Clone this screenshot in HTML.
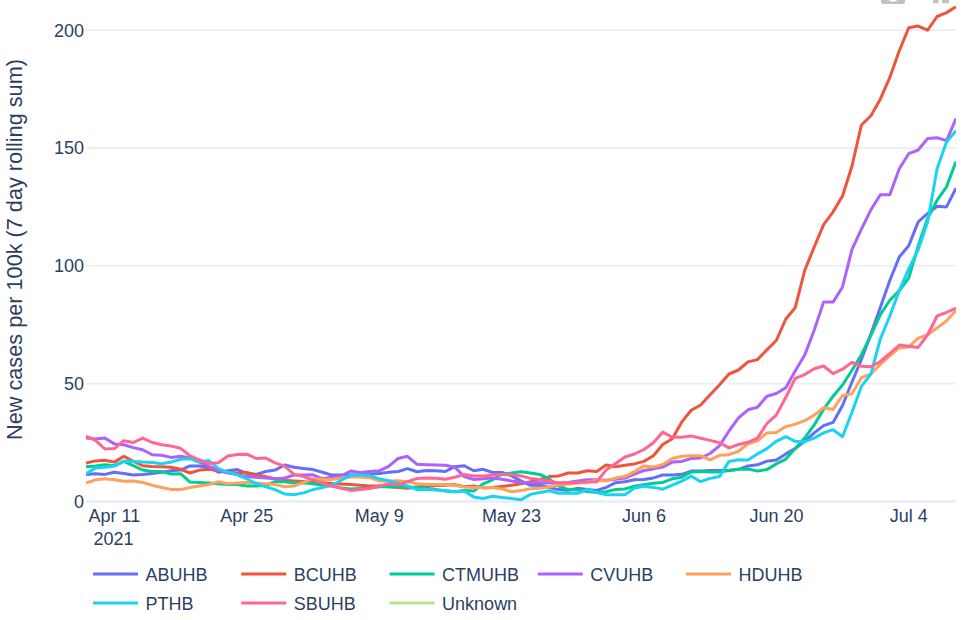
<!DOCTYPE html>
<html><head><meta charset="utf-8"><style>
html,body{margin:0;padding:0;background:#fff;width:967px;height:620px;overflow:hidden}
svg{display:block;font-family:"Liberation Sans",sans-serif}
</style></head><body>
<svg width="967" height="620" viewBox="0 0 967 620">
<g stroke="#EBF0F8" stroke-width="2">
<line x1="86" x2="956" y1="30.0" y2="30.0"/>
<line x1="86" x2="956" y1="147.9" y2="147.9"/>
<line x1="86" x2="956" y1="265.8" y2="265.8"/>
<line x1="86" x2="956" y1="383.6" y2="383.6"/>
</g>
<line x1="86" x2="956" y1="501.5" y2="501.5" stroke="#EBF0F8" stroke-width="3"/>
<g fill="#c2c2c2">
<rect x="881" y="-6" width="24" height="10" rx="2.5"/>
<rect x="933" y="-6" width="5.5" height="9.2"/>
<rect x="942" y="-6" width="7" height="9.2"/>
</g>
<ellipse cx="893" cy="-2" rx="5" ry="3.8" fill="#fff"/>
<g fill="#2a3f5f" font-size="18">
<text x="84" y="36.5" text-anchor="end">200</text>
<text x="84" y="154.4" text-anchor="end">150</text>
<text x="84" y="272.3" text-anchor="end">100</text>
<text x="84" y="390.1" text-anchor="end">50</text>
<text x="84" y="508.0" text-anchor="end">0</text>
<text x="114.4" y="522" text-anchor="middle">Apr 11</text>
<text x="246.8" y="522" text-anchor="middle">Apr 25</text>
<text x="379.2" y="522" text-anchor="middle">May 9</text>
<text x="511.6" y="522" text-anchor="middle">May 23</text>
<text x="644.0" y="522" text-anchor="middle">Jun 6</text>
<text x="776.4" y="522" text-anchor="middle">Jun 20</text>
<text x="908.8" y="522" text-anchor="middle">Jul 4</text>
<text x="113.5" y="544.5" text-anchor="middle">2021</text>
</g>
<text transform="translate(22.2,249.5) rotate(-90)" text-anchor="middle" font-size="21.7" fill="#2a3f5f">New cases per 100k (7 day rolling sum)</text>
<svg x="86" y="0" width="870" height="620" viewBox="86 0 870 620" overflow="hidden">
<g fill="none" stroke-width="3" stroke-linejoin="round" stroke-linecap="butt">
<polyline points="86.0,474.4 95.5,473.7 104.9,474.4 114.4,472.2 123.8,473.4 133.3,475.1 142.7,474.4 152.2,473.4 161.7,472.2 171.1,470.8 180.6,470.1 190.0,465.9 199.5,465.9 208.9,467.2 218.4,472.2 227.8,470.8 237.3,469.6 246.8,473.4 256.2,474.4 265.7,471.5 275.1,470.1 284.6,465.0 294.0,467.2 303.5,468.6 313.0,469.6 322.4,472.2 331.9,475.1 341.3,475.1 350.8,475.1 360.2,474.4 369.7,474.0 379.2,473.4 388.6,472.2 398.1,471.5 407.5,468.6 417.0,471.7 426.4,470.5 435.9,470.8 445.3,471.5 454.8,466.7 464.3,465.7 473.7,470.8 483.2,469.3 492.6,472.5 502.1,472.5 511.5,475.9 521.0,480.9 530.5,485.3 539.9,485.3 549.4,487.5 558.8,489.6 568.3,490.4 577.7,488.2 587.2,489.4 596.7,490.4 606.1,487.5 615.6,482.7 625.0,481.7 634.5,479.7 643.9,479.5 653.4,477.9 662.8,475.0 672.3,475.0 681.8,474.3 691.2,471.1 700.7,471.1 710.1,470.5 719.6,470.5 729.0,470.5 738.5,469.3 748.0,466.0 757.4,464.8 766.9,461.2 776.3,460.1 785.8,453.9 795.2,448.6 804.7,441.3 814.2,432.9 823.6,425.6 833.1,422.4 842.5,405.5 852.0,382.0 861.4,359.5 870.9,334.1 880.3,307.5 889.8,280.5 899.3,257.0 908.7,245.7 918.2,221.9 927.6,213.5 937.1,206.2 946.5,206.9 956.0,188.1" stroke="#636efa"/>
<polyline points="86.0,463.1 95.5,460.9 104.9,460.2 114.4,462.1 123.8,456.3 133.3,461.4 142.7,465.7 152.2,466.4 161.7,466.7 171.1,467.2 180.6,469.3 190.0,473.0 199.5,470.1 208.9,469.3 218.4,470.8 227.8,472.5 237.3,473.0 246.8,472.5 256.2,475.1 265.7,476.6 275.1,478.8 284.6,480.2 294.0,480.9 303.5,481.4 313.0,482.1 322.4,482.7 331.9,483.6 341.3,484.1 350.8,484.6 360.2,485.3 369.7,486.0 379.2,486.0 388.6,486.7 398.1,487.5 407.5,488.2 417.0,487.0 426.4,486.0 435.9,485.6 445.3,485.3 454.8,484.6 464.3,486.7 473.7,486.0 483.2,487.9 492.6,487.5 502.1,486.5 511.5,485.3 521.0,483.7 530.5,481.7 539.9,479.5 549.4,476.6 558.8,475.9 568.3,473.0 577.7,473.0 587.2,470.8 596.7,471.5 606.1,465.0 615.6,466.7 625.0,465.3 634.5,463.9 643.9,461.4 653.4,455.8 662.8,444.5 672.3,438.8 681.8,421.9 691.2,410.2 700.7,405.0 710.1,394.8 719.6,384.7 729.0,374.0 738.5,370.0 748.0,361.9 757.4,359.6 766.9,349.9 776.3,340.5 785.8,319.0 795.2,307.7 804.7,270.5 814.2,247.0 823.6,224.6 833.1,211.8 842.5,196.0 852.0,166.0 861.4,125.0 870.9,115.7 880.3,99.2 889.8,77.4 899.3,50.8 908.7,27.8 918.2,26.1 927.6,30.2 937.1,16.5 946.5,12.6 956.0,6.8" stroke="#EF553B"/>
<polyline points="86.0,466.7 95.5,466.1 104.9,464.7 114.4,465.7 123.8,461.4 133.3,465.7 142.7,470.1 152.2,471.5 161.7,471.5 171.1,474.0 180.6,473.7 190.0,482.1 199.5,482.5 208.9,483.1 218.4,483.8 227.8,484.6 237.3,484.6 246.8,486.0 256.2,486.0 265.7,485.3 275.1,481.7 284.6,481.7 294.0,483.1 303.5,482.7 313.0,483.8 322.4,485.3 331.9,486.0 341.3,487.9 350.8,488.9 360.2,488.5 369.7,488.2 379.2,486.7 388.6,486.5 398.1,486.7 407.5,487.0 417.0,487.5 426.4,488.2 435.9,489.6 445.3,491.1 454.8,491.8 464.3,490.4 473.7,491.1 483.2,483.8 492.6,479.8 502.1,474.0 511.5,473.0 521.0,471.7 530.5,473.0 539.9,474.4 549.4,479.2 558.8,486.0 568.3,489.6 577.7,489.9 587.2,491.4 596.7,492.5 606.1,491.8 615.6,489.4 625.0,488.9 634.5,486.2 643.9,484.7 653.4,483.3 662.8,482.4 672.3,478.8 681.8,477.2 691.2,472.0 700.7,471.6 710.1,472.0 719.6,472.0 729.0,470.5 738.5,469.3 748.0,469.0 757.4,471.0 766.9,469.6 776.3,463.9 785.8,459.1 795.2,448.6 804.7,438.1 814.2,424.9 823.6,409.4 833.1,396.2 842.5,385.0 852.0,370.2 861.4,354.7 870.9,335.3 880.3,314.8 889.8,300.2 899.3,290.6 908.7,278.0 918.2,246.1 927.6,218.3 937.1,200.2 946.5,186.9 956.0,161.5" stroke="#00cc96"/>
<polyline points="86.0,438.1 95.5,438.9 104.9,438.1 114.4,443.9 123.8,444.7 133.3,447.6 142.7,449.7 152.2,454.8 161.7,455.3 171.1,457.4 180.6,456.3 190.0,458.0 199.5,462.1 208.9,466.4 218.4,470.1 227.8,473.0 237.3,474.4 246.8,476.6 256.2,477.3 265.7,478.0 275.1,478.8 284.6,478.0 294.0,475.1 303.5,475.0 313.0,474.8 322.4,478.8 331.9,477.3 341.3,475.9 350.8,471.1 360.2,472.5 369.7,471.5 379.2,470.8 388.6,466.4 398.1,458.5 407.5,456.3 417.0,464.3 426.4,464.7 435.9,465.0 445.3,465.3 454.8,467.2 464.3,476.6 473.7,479.5 483.2,478.8 492.6,478.0 502.1,479.2 511.5,480.9 521.0,482.2 530.5,482.7 539.9,482.7 549.4,483.1 558.8,483.1 568.3,482.4 577.7,480.9 587.2,479.8 596.7,479.8 606.1,480.2 615.6,479.2 625.0,478.0 634.5,474.1 643.9,470.5 653.4,468.9 662.8,467.1 672.3,462.1 681.8,461.4 691.2,458.5 700.7,458.0 710.1,453.5 719.6,445.6 729.0,431.0 738.5,417.9 748.0,409.8 757.4,407.3 766.9,396.2 776.3,393.5 785.8,387.8 795.2,370.9 804.7,355.1 814.2,330.3 823.6,302.1 833.1,302.1 842.5,287.0 852.0,249.4 861.4,229.2 870.9,209.8 880.3,194.8 889.8,194.8 899.3,168.7 908.7,153.7 918.2,150.0 927.6,138.5 937.1,137.8 946.5,140.6 956.0,118.6" stroke="#ab63fa"/>
<polyline points="86.0,483.1 95.5,479.8 104.9,478.8 114.4,479.8 123.8,481.2 133.3,480.9 142.7,482.4 152.2,485.3 161.7,487.5 171.1,489.4 180.6,489.6 190.0,487.5 199.5,486.0 208.9,484.6 218.4,481.7 227.8,483.8 237.3,483.1 246.8,482.4 256.2,483.1 265.7,483.8 275.1,484.6 284.6,486.7 294.0,486.0 303.5,482.4 313.0,478.8 322.4,479.5 331.9,479.5 341.3,478.0 350.8,476.9 360.2,476.9 369.7,477.7 379.2,480.9 388.6,480.9 398.1,480.7 407.5,481.7 417.0,483.8 426.4,484.6 435.9,484.6 445.3,484.6 454.8,485.3 464.3,487.0 473.7,487.5 483.2,487.5 492.6,487.5 502.1,488.9 511.5,491.8 521.0,490.6 530.5,488.8 539.9,488.2 549.4,487.0 558.8,485.0 568.3,484.1 577.7,483.1 587.2,482.1 596.7,480.2 606.1,480.9 615.6,478.0 625.0,476.3 634.5,471.6 643.9,465.9 653.4,467.1 662.8,464.4 672.3,458.5 681.8,456.2 691.2,455.8 700.7,455.8 710.1,459.8 719.6,455.3 729.0,454.7 738.5,451.3 748.0,443.8 757.4,440.9 766.9,432.9 776.3,432.5 785.8,426.6 795.2,424.1 804.7,420.7 814.2,415.1 823.6,407.7 833.1,409.4 842.5,395.5 852.0,393.7 861.4,377.7 870.9,374.0 880.3,364.4 889.8,355.9 899.3,347.9 908.7,346.9 918.2,338.2 927.6,334.8 937.1,328.1 946.5,320.8 956.0,310.6" stroke="#FFA15A"/>
<polyline points="86.0,473.7 95.5,467.9 104.9,467.2 114.4,466.1 123.8,461.1 133.3,461.4 142.7,462.1 152.2,462.4 161.7,463.8 171.1,462.1 180.6,459.2 190.0,458.7 199.5,461.7 208.9,460.6 218.4,468.6 227.8,472.2 237.3,474.8 246.8,478.8 256.2,483.8 265.7,486.7 275.1,489.6 284.6,494.0 294.0,494.7 303.5,492.9 313.0,489.6 322.4,487.5 331.9,485.3 341.3,480.2 350.8,475.1 360.2,475.1 369.7,475.4 379.2,478.8 388.6,480.7 398.1,483.1 407.5,486.0 417.0,489.6 426.4,489.6 435.9,489.9 445.3,490.4 454.8,491.8 464.3,491.1 473.7,496.9 483.2,498.4 492.6,496.2 502.1,497.6 511.5,498.4 521.0,499.8 530.5,494.4 539.9,492.5 549.4,490.8 558.8,493.3 568.3,493.3 577.7,493.3 587.2,489.4 596.7,492.5 606.1,494.7 615.6,494.7 625.0,494.7 634.5,487.9 643.9,486.3 653.4,487.4 662.8,489.2 672.3,485.1 681.8,481.1 691.2,476.1 700.7,481.7 710.1,478.4 719.6,476.5 729.0,461.4 738.5,459.8 748.0,460.1 757.4,453.9 766.9,448.6 776.3,441.3 785.8,436.7 795.2,441.3 804.7,441.7 814.2,438.1 823.6,432.9 833.1,429.7 842.5,436.7 852.0,412.3 861.4,386.4 870.9,374.0 880.3,339.0 889.8,316.0 899.3,290.6 908.7,268.9 918.2,249.8 927.6,221.9 937.1,168.7 946.5,142.1 956.0,130.6" stroke="#19d3f3"/>
<polyline points="86.0,436.0 95.5,440.3 104.9,449.0 114.4,448.6 123.8,440.7 133.3,442.5 142.7,438.1 152.2,442.5 161.7,444.7 171.1,446.1 180.6,448.3 190.0,455.9 199.5,459.9 208.9,463.5 218.4,462.8 227.8,456.0 237.3,454.5 246.8,454.2 256.2,458.5 265.7,458.0 275.1,462.8 284.6,466.1 294.0,474.4 303.5,476.6 313.0,479.8 322.4,483.1 331.9,486.0 341.3,488.2 350.8,490.4 360.2,489.4 369.7,488.5 379.2,486.0 388.6,483.8 398.1,485.0 407.5,481.7 417.0,478.4 426.4,478.0 435.9,478.3 445.3,479.2 454.8,477.3 464.3,474.4 473.7,475.9 483.2,475.9 492.6,475.1 502.1,474.4 511.5,474.8 521.0,475.9 530.5,478.4 539.9,479.5 549.4,480.9 558.8,483.1 568.3,482.7 577.7,482.4 587.2,482.1 596.7,481.7 606.1,470.1 615.6,463.5 625.0,457.0 634.5,454.0 643.9,449.5 653.4,442.7 662.8,432.1 672.3,437.3 681.8,437.3 691.2,435.9 700.7,438.2 710.1,440.4 719.6,442.7 729.0,447.9 738.5,444.5 748.0,442.3 757.4,438.1 766.9,423.5 776.3,415.1 785.8,397.3 795.2,378.4 804.7,374.6 814.2,368.7 823.6,366.0 833.1,373.6 842.5,369.2 852.0,362.4 861.4,366.3 870.9,366.8 880.3,361.5 889.8,353.5 899.3,345.0 908.7,346.2 918.2,347.4 927.6,334.8 937.1,316.0 946.5,312.3 956.0,308.2" stroke="#FF6692"/>
</g>
</svg>
<g stroke-width="3" fill="#2a3f5f" font-size="18">
<line x1="93" x2="138" y1="574" y2="574" stroke="#636efa"/><text x="145.5" y="580.5">ABUHB</text>
<line x1="241.2" x2="286.2" y1="574" y2="574" stroke="#EF553B"/><text x="293.7" y="580.5">BCUHB</text>
<line x1="389.6" x2="434.6" y1="574" y2="574" stroke="#00cc96"/><text x="442.1" y="580.5">CTMUHB</text>
<line x1="537.8" x2="582.8" y1="574" y2="574" stroke="#ab63fa"/><text x="590.3" y="580.5">CVUHB</text>
<line x1="686" x2="731" y1="574" y2="574" stroke="#FFA15A"/><text x="738.5" y="580.5">HDUHB</text>
<line x1="93" x2="138" y1="603" y2="603" stroke="#19d3f3"/><text x="145.5" y="609.5">PTHB</text>
<line x1="241.2" x2="286.2" y1="603" y2="603" stroke="#FF6692"/><text x="293.7" y="609.5">SBUHB</text>
<line x1="389.6" x2="434.6" y1="603" y2="603" stroke="#B6E880"/><text x="442.1" y="609.5">Unknown</text>
</g>
</svg>
</body></html>
